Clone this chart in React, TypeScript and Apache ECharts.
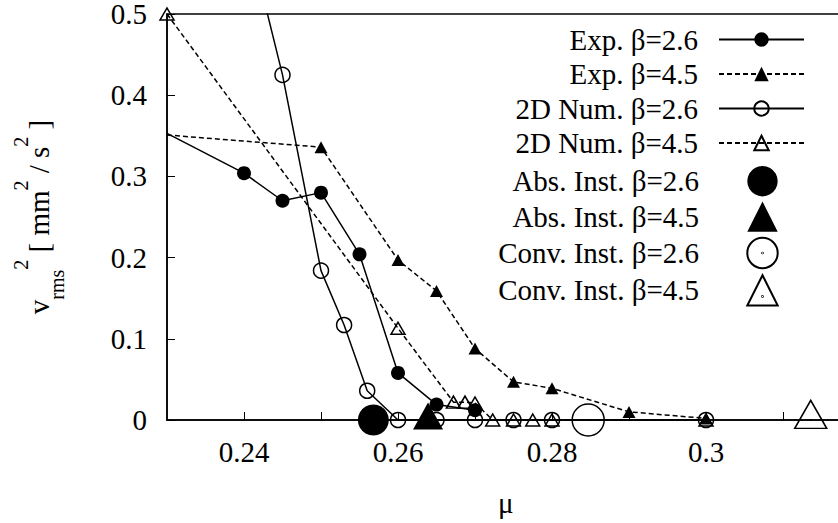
import { useEffect, useRef } from 'react';
import * as echarts from 'echarts';

const FONT = 'Liberation Serif';

const seriesNames = [
  'Exp. β=2.6',
  'Exp. β=4.5',
  '2D Num. β=2.6',
  '2D Num. β=4.5',
  'Abs. Inst. β=2.6',
  'Abs. Inst. β=4.5',
  'Conv. Inst. β=2.6',
  'Conv. Inst. β=4.5',
];

const xTickLabels = [0.24, 0.26, 0.28, 0.3];
const xTickMarks = [0.24, 0.25, 0.26, 0.27, 0.28, 0.29, 0.3, 0.31];

// [mu, v_rms^2]
const expBeta26: [number, number][] = [
  [0.23, 0.353], [0.24, 0.304], [0.245, 0.27], [0.25, 0.28], [0.255, 0.204],
  [0.26, 0.058], [0.265, 0.019], [0.27, 0.012],
];
const expBeta45: [number, number][] = [
  [0.23, 0.351], [0.25, 0.336], [0.26, 0.197], [0.265, 0.159], [0.27, 0.088],
  [0.275, 0.047], [0.28, 0.039], [0.29, 0.01], [0.3, 0.002],
];
const numBeta26: [number, number][] = [
  [0.24, 0.617], [0.245, 0.425], [0.25, 0.184], [0.253, 0.117], [0.256, 0.036],
  [0.26, 0], [0.265, 0], [0.27, 0], [0.275, 0], [0.28, 0], [0.3, 0],
];
const numBeta45: [number, number][] = [
  [0.23, 0.5], [0.26, 0.113], [0.2672, 0.022], [0.2687, 0.022], [0.27, 0.021],
  [0.2723, 0], [0.275, 0], [0.2775, 0], [0.28, 0], [0.3, 0],
];
const absInstBeta26: [number, number][] = [[0.2568, 0]];
const absInstBeta45: [number, number][] = [[0.2639, 0]];
const convInstBeta26: [number, number][] = [[0.2847, 0]];
const convInstBeta45: [number, number][] = [[0.3136, 0]];

const X_MIN = 0.23;
const X_MAX = 0.318;

const circleDot =
  'path://M16,0A16,16,0,1,1,-16,0A16,16,0,1,1,16,0Z M0.35,0A0.35,0.35,0,1,1,-0.35,0A0.35,0.35,0,1,1,0.35,0Z';
const triangleDot =
  'path://M0,0L16,28L-16,28Z M0.35,19.6A0.35,0.35,0,1,1,-0.35,19.6A0.35,0.35,0,1,1,0.35,19.6Z';

const BLACK = '#000';
const LW = 1.5;
const DASH = [5, 3];

export default function App() {
  const ref = useRef<HTMLDivElement>(null);

  useEffect(() => {
    if (!ref.current) return;
    const chart = echarts.init(ref.current, undefined, { renderer: 'svg' });

    const hideFirst = (arr: [number, number][]) =>
      arr.map((p, i) => (i === 0 ? { value: p, symbol: 'none' } : p));

    const legendText = {
      fontFamily: FONT,
      fontSize: 29,
      color: BLACK,
      rich: {
        a: {
          fontFamily: FONT,
          fontSize: 29,
          color: BLACK,
          width: 245,
          align: 'right',
          lineHeight: 30,
          padding: [0, 16, 0, 0],
        },
      },
    };

    const option: any = {
      animation: false,
      backgroundColor: '#fff',
      grid: {
        left: 167,
        top: 14,
        width: (X_MAX - X_MIN) * 7700,
        height: 406,
        containLabel: false,
        outerBoundsMode: 'none',
        show: true,
        borderColor: BLACK,
        borderWidth: LW,
        backgroundColor: 'transparent',
      },
      legend: [
        {
          data: seriesNames.slice(0, 4),
          orient: 'vertical',
          align: 'right',
          right: 33,
          top: 25,
          padding: 0,
          itemWidth: 85,
          itemHeight: 18,
          itemGap: 5.5,
          selectedMode: false,
          formatter: (n: string) => `{a|${n}}`,
          textStyle: legendText,
        },
        {
          data: seriesNames.slice(4, 8),
          orient: 'vertical',
          align: 'right',
          right: 33,
          top: 166,
          padding: 0,
          itemWidth: 85,
          itemHeight: 38,
          itemGap: 5,
          selectedMode: false,
          formatter: (n: string) => `{a|${n}}`,
          textStyle: legendText,
        },
      ],
      xAxis: {
        type: 'value',
        min: X_MIN,
        max: X_MAX,
        interval: 0.01,
        name: 'μ',
        nameLocation: 'middle',
        nameGap: 68,
        nameTextStyle: { fontFamily: FONT, fontSize: 29, color: BLACK },
        axisLine: { show: true, onZero: false, lineStyle: { color: BLACK, width: LW } },
        axisTick: { show: true, inside: true, length: 8, lineStyle: { color: BLACK, width: 1 }, customValues: xTickMarks },
        axisLabel: {
          margin: 17,
          fontFamily: FONT,
          fontSize: 29,
          color: BLACK,
          customValues: xTickLabels,
        },
        splitLine: { show: false },
      },
      yAxis: {
        type: 'value',
        min: 0,
        max: 0.5,
        interval: 0.1,
        name: '{v|v}{sub|rms}{sup|2}{m| [ mm}{sup|2}{m| / s}{sup|2}{m| ]}',
        nameLocation: 'middle',
        nameRotate: 90,
        nameGap: 100,
        nameTextStyle: {
          fontFamily: FONT,
          fontSize: 29,
          color: BLACK,
          rich: {
            v: { fontFamily: FONT, fontSize: 29, color: BLACK, lineHeight: 56 },
            m: { fontFamily: FONT, fontSize: 29, color: BLACK, lineHeight: 56 },
            sub: { fontFamily: FONT, fontSize: 20, color: BLACK, lineHeight: 36, verticalAlign: 'bottom' },
            sup: { fontFamily: FONT, fontSize: 20, color: BLACK, lineHeight: 18, verticalAlign: 'top' },
          },
        },
        axisLine: { show: true, onZero: false, lineStyle: { color: BLACK, width: LW } },
        axisTick: { show: true, inside: true, length: 8, lineStyle: { color: BLACK, width: 1 } },
        axisLabel: {
          margin: 20,
          fontFamily: FONT,
          fontSize: 29,
          color: BLACK,
        },
        splitLine: { show: false },
      },
      series: [
        {
          name: seriesNames[0],
          type: 'line',
          data: hideFirst(expBeta26),
          symbol: 'circle',
          symbolSize: 14,
          itemStyle: { color: BLACK, borderWidth: 0 },
          lineStyle: { color: BLACK, width: LW, type: 'solid' },
          clip: true,
          z: 4,
        },
        {
          name: seriesNames[1],
          type: 'line',
          data: hideFirst(expBeta45),
          symbol: 'triangle',
          symbolSize: [13, 12],
          itemStyle: { color: BLACK, borderWidth: 0 },
          lineStyle: { color: BLACK, width: LW, type: DASH },
          clip: true,
          z: 4,
        },
        {
          name: seriesNames[2],
          type: 'line',
          data: numBeta26,
          symbol: 'circle',
          symbolSize: 15,
          itemStyle: { color: 'rgba(0,0,0,0)', borderColor: BLACK, borderWidth: LW },
          lineStyle: { color: BLACK, width: LW, type: 'solid' },
          clip: true,
          z: 3,
        },
        {
          name: seriesNames[3],
          type: 'line',
          data: numBeta45,
          symbol: 'triangle',
          symbolSize: [14, 12],
          itemStyle: { color: 'rgba(0,0,0,0)', borderColor: BLACK, borderWidth: LW },
          lineStyle: { color: BLACK, width: LW, type: DASH },
          clip: false,
          z: 3,
        },
        {
          name: seriesNames[4],
          type: 'line',
          data: absInstBeta26,
          symbol: 'circle',
          symbolSize: 31,
          itemStyle: { color: BLACK, borderWidth: 0 },
          lineStyle: { color: BLACK, width: 0 },
          clip: false,
          z: 5,
        },
        {
          name: seriesNames[5],
          type: 'line',
          data: absInstBeta45,
          symbol: 'triangle',
          symbolSize: [30, 27],
          symbolOffset: [0, -4],
          itemStyle: { color: BLACK, borderWidth: 0 },
          lineStyle: { color: BLACK, width: 0 },
          clip: false,
          z: 5,
        },
        {
          name: seriesNames[6],
          type: 'line',
          data: convInstBeta26,
          symbol: circleDot,
          symbolSize: 32,
          itemStyle: { color: 'rgba(0,0,0,0)', borderColor: BLACK, borderWidth: LW },
          lineStyle: { color: BLACK, width: 0 },
          clip: false,
          z: 5,
        },
        {
          name: seriesNames[7],
          type: 'line',
          data: convInstBeta45,
          symbol: triangleDot,
          symbolSize: [32, 28],
          symbolOffset: [0, -5.6],
          itemStyle: { color: 'rgba(0,0,0,0)', borderColor: BLACK, borderWidth: LW },
          lineStyle: { color: BLACK, width: 0 },
          clip: false,
          z: 5,
        },
      ],
    };

    chart.setOption(option);
    return () => {
      chart.dispose();
    };
  }, []);

  return (
    <div
      ref={ref}
      style={{ position: 'fixed', left: 0, top: 0, width: 838, height: 523, background: '#fff' }}
    />
  );
}
